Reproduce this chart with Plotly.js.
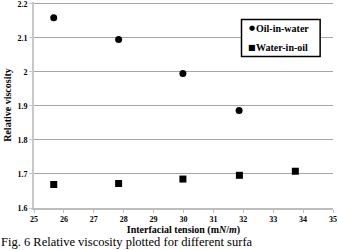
<!DOCTYPE html>
<html>
<head>
<meta charset="utf-8">
<script src="https://cdn.plot.ly/plotly-3.0.1.min.js"></script>
<style>
  html, body { margin: 0; padding: 0; background: #fff; }
  #chart { width: 338px; height: 250px; }
</style>
</head>
<body>
<div id="chart"></div>
<script>
// Interfacial tension (mN/m) and relative viscosity for each emulsion type
const oilInWaterTension = [25.66, 27.83, 29.98, 31.86];
const oilInWaterViscosity = [2.159, 2.095, 1.995, 1.886];
const waterInOilTension = [25.66, 27.83, 29.98, 31.87, 33.74];
const waterInOilViscosity = [1.669, 1.672, 1.685, 1.696, 1.708];

const seriesNames = ['Oil-in-water', 'Water-in-oil'];
const yTickValues = [1.6, 1.7, 1.8, 1.9, 2, 2.1, 2.2];
const yTickLabels = ['1.6', '1.7', '1.8', '1.9', '2', '2.1', '2.2'];
const xTitle = 'Interfacial tension (m<i>N</i>/<i>m</i>)';
const yTitle = 'Relative viscosity';
const caption = 'Fig. 6 Relative viscosity plotted for different surfa';

const serif = 'Liberation Serif';

const traces = [
  {
    x: oilInWaterTension, y: oilInWaterViscosity, name: seriesNames[0],
    type: 'scatter', mode: 'markers',
    marker: { symbol: 'circle', size: 7, color: '#000' }
  },
  {
    x: waterInOilTension, y: waterInOilViscosity, name: seriesNames[1],
    type: 'scatter', mode: 'markers',
    marker: { symbol: 'square', size: 7, color: '#000' }
  }
];

const layout = {
  width: 338, height: 250,
  margin: { l: 34, r: 5, t: 2, b: 42 },
  paper_bgcolor: '#fff', plot_bgcolor: '#fff',
  showlegend: false,
  font: { family: serif, color: '#000' },
  xaxis: {
    range: [25, 35], dtick: 1, tick0: 25,
    showgrid: false, zeroline: false,
    showline: true, linecolor: '#bdbdbd', linewidth: 1.5,
    ticks: 'outside', ticklen: 3, tickcolor: '#bdbdbd', tickwidth: 1,
    tickfont: { family: serif, size: 8, color: '#000', weight: 'bold' },
    title: { text: xTitle, standoff: 3, font: { family: serif, size: 10, color: '#000', weight: 'bold' } },
    automargin: false, fixedrange: true
  },
  yaxis: {
    range: [1.6, 2.205],
    tickmode: 'array', tickvals: yTickValues, ticktext: yTickLabels,
    showgrid: true, gridcolor: '#a6a6a6', gridwidth: 1,
    zeroline: false,
    showline: true, linecolor: '#c8c8c8', linewidth: 2,
    ticks: 'outside', ticklen: 3, tickcolor: '#c8c8c8', tickwidth: 1,
    ticklabeloverflow: 'allow',
    tickfont: { family: serif, size: 8, color: '#000', weight: 'bold' },
    title: { text: yTitle, standoff: 4, font: { family: serif, size: 10, color: '#000', weight: 'bold' } },
    automargin: false, fixedrange: true
  },
  shapes: [
    // legend frame
    { type: 'rect', xref: 'paper', yref: 'paper', x0: 0.694, x1: 0.957, y0: 0.735, y1: 0.915,
      fillcolor: '#fff', line: { color: '#000', width: 1.5 }, layer: 'above' }
  ],
  annotations: [
    { xref: 'paper', yref: 'paper', x: 0.712, y: 0.872, xanchor: 'left', yanchor: 'middle',
      text: '●', showarrow: false, font: { family: 'DejaVu Sans', size: 7, color: '#000' } },
    { xref: 'paper', yref: 'paper', x: 0.736, y: 0.872, xanchor: 'left', yanchor: 'middle',
      text: '<b>' + seriesNames[0] + '</b>', showarrow: false, font: { family: serif, size: 10, color: '#000' } },
    { xref: 'paper', yref: 'paper', x: 0.710, y: 0.78, xanchor: 'left', yanchor: 'middle',
      text: '■', showarrow: false, font: { family: 'DejaVu Sans', size: 8, color: '#000' } },
    { xref: 'paper', yref: 'paper', x: 0.736, y: 0.78, xanchor: 'left', yanchor: 'middle',
      text: '<b>' + seriesNames[1] + '</b>', showarrow: false, font: { family: serif, size: 10, color: '#000' } },
    { xref: 'paper', yref: 'paper', x: -0.118, y: -0.163, xanchor: 'left', yanchor: 'middle',
      text: caption, showarrow: false, font: { family: serif, size: 12.5, color: '#000' } }
  ]
};

Plotly.newPlot('chart', traces, layout, { staticPlot: true, displayModeBar: false });
</script>
</body>
</html>
